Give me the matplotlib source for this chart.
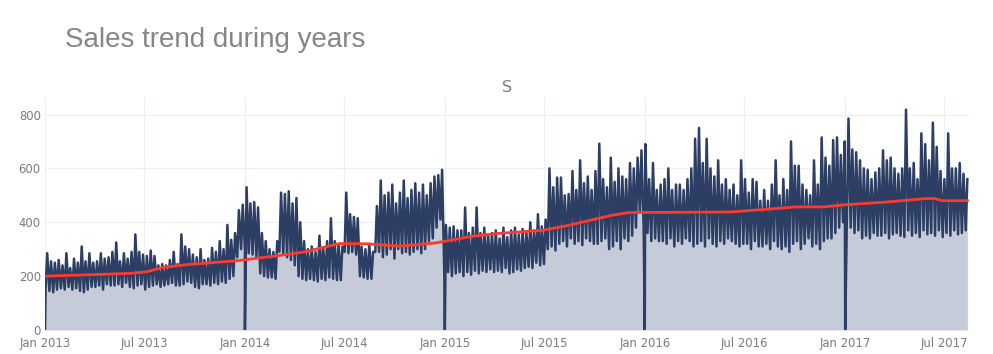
import matplotlib
matplotlib.use('Agg')
import matplotlib.pyplot as plt
import matplotlib.dates as mdates
import pandas as pd

# weekly peaks / troughs, one entry per week from 2013-01-01
high_2013 = [285, 255, 250, 260, 240,  285, 230, 265, 250,  310, 255, 285, 250,
             255, 285, 265, 270, 290,  325, 255, 285, 265,  290, 355, 290, 280,
             275, 295, 275, 240, 245,  240, 260, 290, 245,  355, 310, 300, 280,
             270, 300, 260, 265, 305,  290, 330, 300, 390,  335, 360, 445, 465, 530]
low_2013 = [150, 145, 140, 150, 155,  150, 160, 150, 155,  145, 140, 150, 160,
            160, 165, 150, 170, 165,  165, 170, 160, 175,  160, 155, 165, 170,
            150, 160, 165, 170, 160,  165, 170, 175, 165,  165, 170, 180, 175,
            160, 155, 170, 170, 165,  175, 170, 180, 175,  190, 200, 270, 300, 300]

high_2014 = [470, 475, 455, 360,  330, 300, 290, 330,  510, 505, 515, 470,
             490, 400, 330, 300, 310,  290, 350, 305, 330,  415, 330, 320, 310,
             510, 430, 420, 415, 310,  300, 320, 290, 460,  555, 500, 510, 540, 470,
             510, 555, 490, 520,  545, 510, 540, 500,  545, 570, 575, 595, 390]
low_2014 = [285, 280, 270, 210,  200, 195, 195, 190,  290, 280, 270, 260,
            240, 200, 190, 185, 190,  185, 180, 190, 185,  195, 190, 185, 185,
            290, 285, 290, 280, 200,  195, 190, 190, 290,  290, 270, 280, 300, 265,
            300, 285, 290, 280,  290, 300, 285, 300,  330, 340, 380, 410, 215]

high_2015 = [380, 385, 370, 370,  455, 360, 380, 455,  360, 380, 355, 360, 370,
             340, 380, 345, 370,  380, 355, 375, 360,  400, 370, 430, 385, 410,
             600, 530, 566, 566,  500, 505, 590, 520,  630, 545, 570, 520, 590,
             692, 560, 530, 640,  550, 600, 570, 560,  620, 600, 640, 667, 690]
low_2015 = [215, 200, 210, 215,  200, 215, 205, 220,  210, 220, 215, 225, 215,
            220, 215, 230, 210,  215, 225, 220, 230,  235, 230, 250, 240, 245,
            300, 310, 295, 320,  330, 310, 340, 320,  330, 315, 340, 330, 320,
            320, 330, 340, 300,  310, 330, 300, 340,  330, 350, 380, 440, 380]

high_2016 = [560, 620, 520, 540,  560, 600, 520, 540,  540, 520, 560, 600, 710,
             750, 620, 710, 600,  570, 630, 540, 560, 520,  540, 500, 630, 560,
             510, 560, 550, 480,  520, 480, 540, 630, 500,  560, 520, 700, 610,
             610, 540, 520, 500,  630, 540, 715, 640, 610,  705, 715, 650, 700]
low_2016 = [360, 330, 340, 330,  330, 320, 340, 310,  330, 320, 340, 330, 310,
            320, 330, 310, 340,  320, 310, 330, 320, 340,  330, 320, 310, 320,
            320, 300, 330, 310,  310, 320, 300, 330, 310,  300, 310, 290, 320,
            330, 300, 320, 340,  310, 320, 300, 330, 340,  340, 360, 380, 400]

high_2017 = [785, 670, 660, 630, 600,  595, 560, 585, 600,  667, 630, 640, 600,
             580, 600, 818, 600,  620, 560, 730, 690, 630,  770, 680, 590, 560,
             730, 600, 600, 620,  580, 560]
low_2017 = [410, 380, 360, 370, 340,  350, 340, 360, 350,  350, 360, 340, 355,
            360, 350, 345, 370,  350, 360, 345, 370, 355,  360, 350, 370, 345,
            360, 350, 370, 355,  360, 370]

week_high = high_2013 + high_2014 + high_2015 + high_2016 + high_2017
week_low = low_2013 + low_2014 + low_2015 + low_2016 + low_2017

# new year's day, store closed
closed_days = ['2013-01-01', '2014-01-01', '2015-01-01', '2016-01-01', '2017-01-01']

# red trend line
trend_dates = ['2013-01-01', '2013-06-04', '2013-07-05', '2013-08-04', '2013-09-23',
               '2013-12-17', '2014-02-15', '2014-03-10', '2014-04-20', '2014-06-23',
               '2014-08-12', '2014-10-11', '2014-12-14', '2015-02-21', '2015-04-05',
               '2015-06-28', '2015-08-07', '2015-11-02', '2015-12-03', '2016-06-03',
               '2016-08-10', '2016-10-03', '2016-11-24', '2017-01-01', '2017-03-17',
               '2017-05-29', '2017-06-13', '2017-06-28', '2017-08-12']
trend_values = [200, 210, 216, 232, 244, 257, 272, 278, 290, 321, 320, 311, 323,
                348, 358, 370, 385, 426, 436, 438, 448, 457, 457, 465, 475, 488,
                488, 480, 480]

weeks = pd.date_range('2013-01-01', periods=len(week_high), freq='7D')
lows = pd.Series(week_low, index=weeks + pd.Timedelta(days=1))
highs = pd.Series(week_high, index=weeks + pd.Timedelta(days=4))
closed = pd.Series(0, index=pd.to_datetime(closed_days))
sales = pd.concat([lows, highs, closed]).sort_index(kind='stable')

navy = '#2c3e64'
fill = '#c6cbd9'
red = '#ff3a2c'
grey = '#7a7a85'

fig = plt.figure(figsize=(9.93, 3.54), dpi=100)
ax = fig.add_axes([45/993, 1 - 330/354, (969 - 45)/993, (330 - 97)/354])

ax.fill_between(sales.index, sales.values, 0, color=fill, lw=0, zorder=2)
ax.plot(sales.index, sales.values, color=navy, lw=1.8, zorder=3)
ax.plot(pd.to_datetime(trend_dates), trend_values, color=red, lw=2, zorder=4)

ax.set_xlim(pd.Timestamp('2013-01-01'), pd.Timestamp('2017-08-15'))
ax.set_ylim(0, 865)
ax.set_yticks([0, 200, 400, 600, 800])
ax.set_xticks(pd.date_range('2013-01-01', '2017-07-01', freq='6MS'))
ax.xaxis.set_major_formatter(mdates.DateFormatter('%b %Y'))

ax.grid(True, color='#ebf0f8', lw=0.8, zorder=0)
ax.set_axisbelow(True)
for s in ax.spines.values():
    s.set_visible(False)
ax.tick_params(length=0, colors=grey, labelsize=8.4)
ax.tick_params(axis='x', pad=5)
ax.tick_params(axis='y', pad=3)
for lab in ax.get_xticklabels() + ax.get_yticklabels():
    lab.set_family('DejaVu Sans')

fig.text(65/993, 1 - 47/354, 'Sales trend during years', fontsize=20,
         family='Liberation Sans', color='#85858c', va='baseline')
fig.text(507/993, 1 - 92/354, 'S', fontsize=11.5, family='DejaVu Sans',
         color=grey, ha='center', va='baseline')

fig.savefig('out.png', dpi=100)
